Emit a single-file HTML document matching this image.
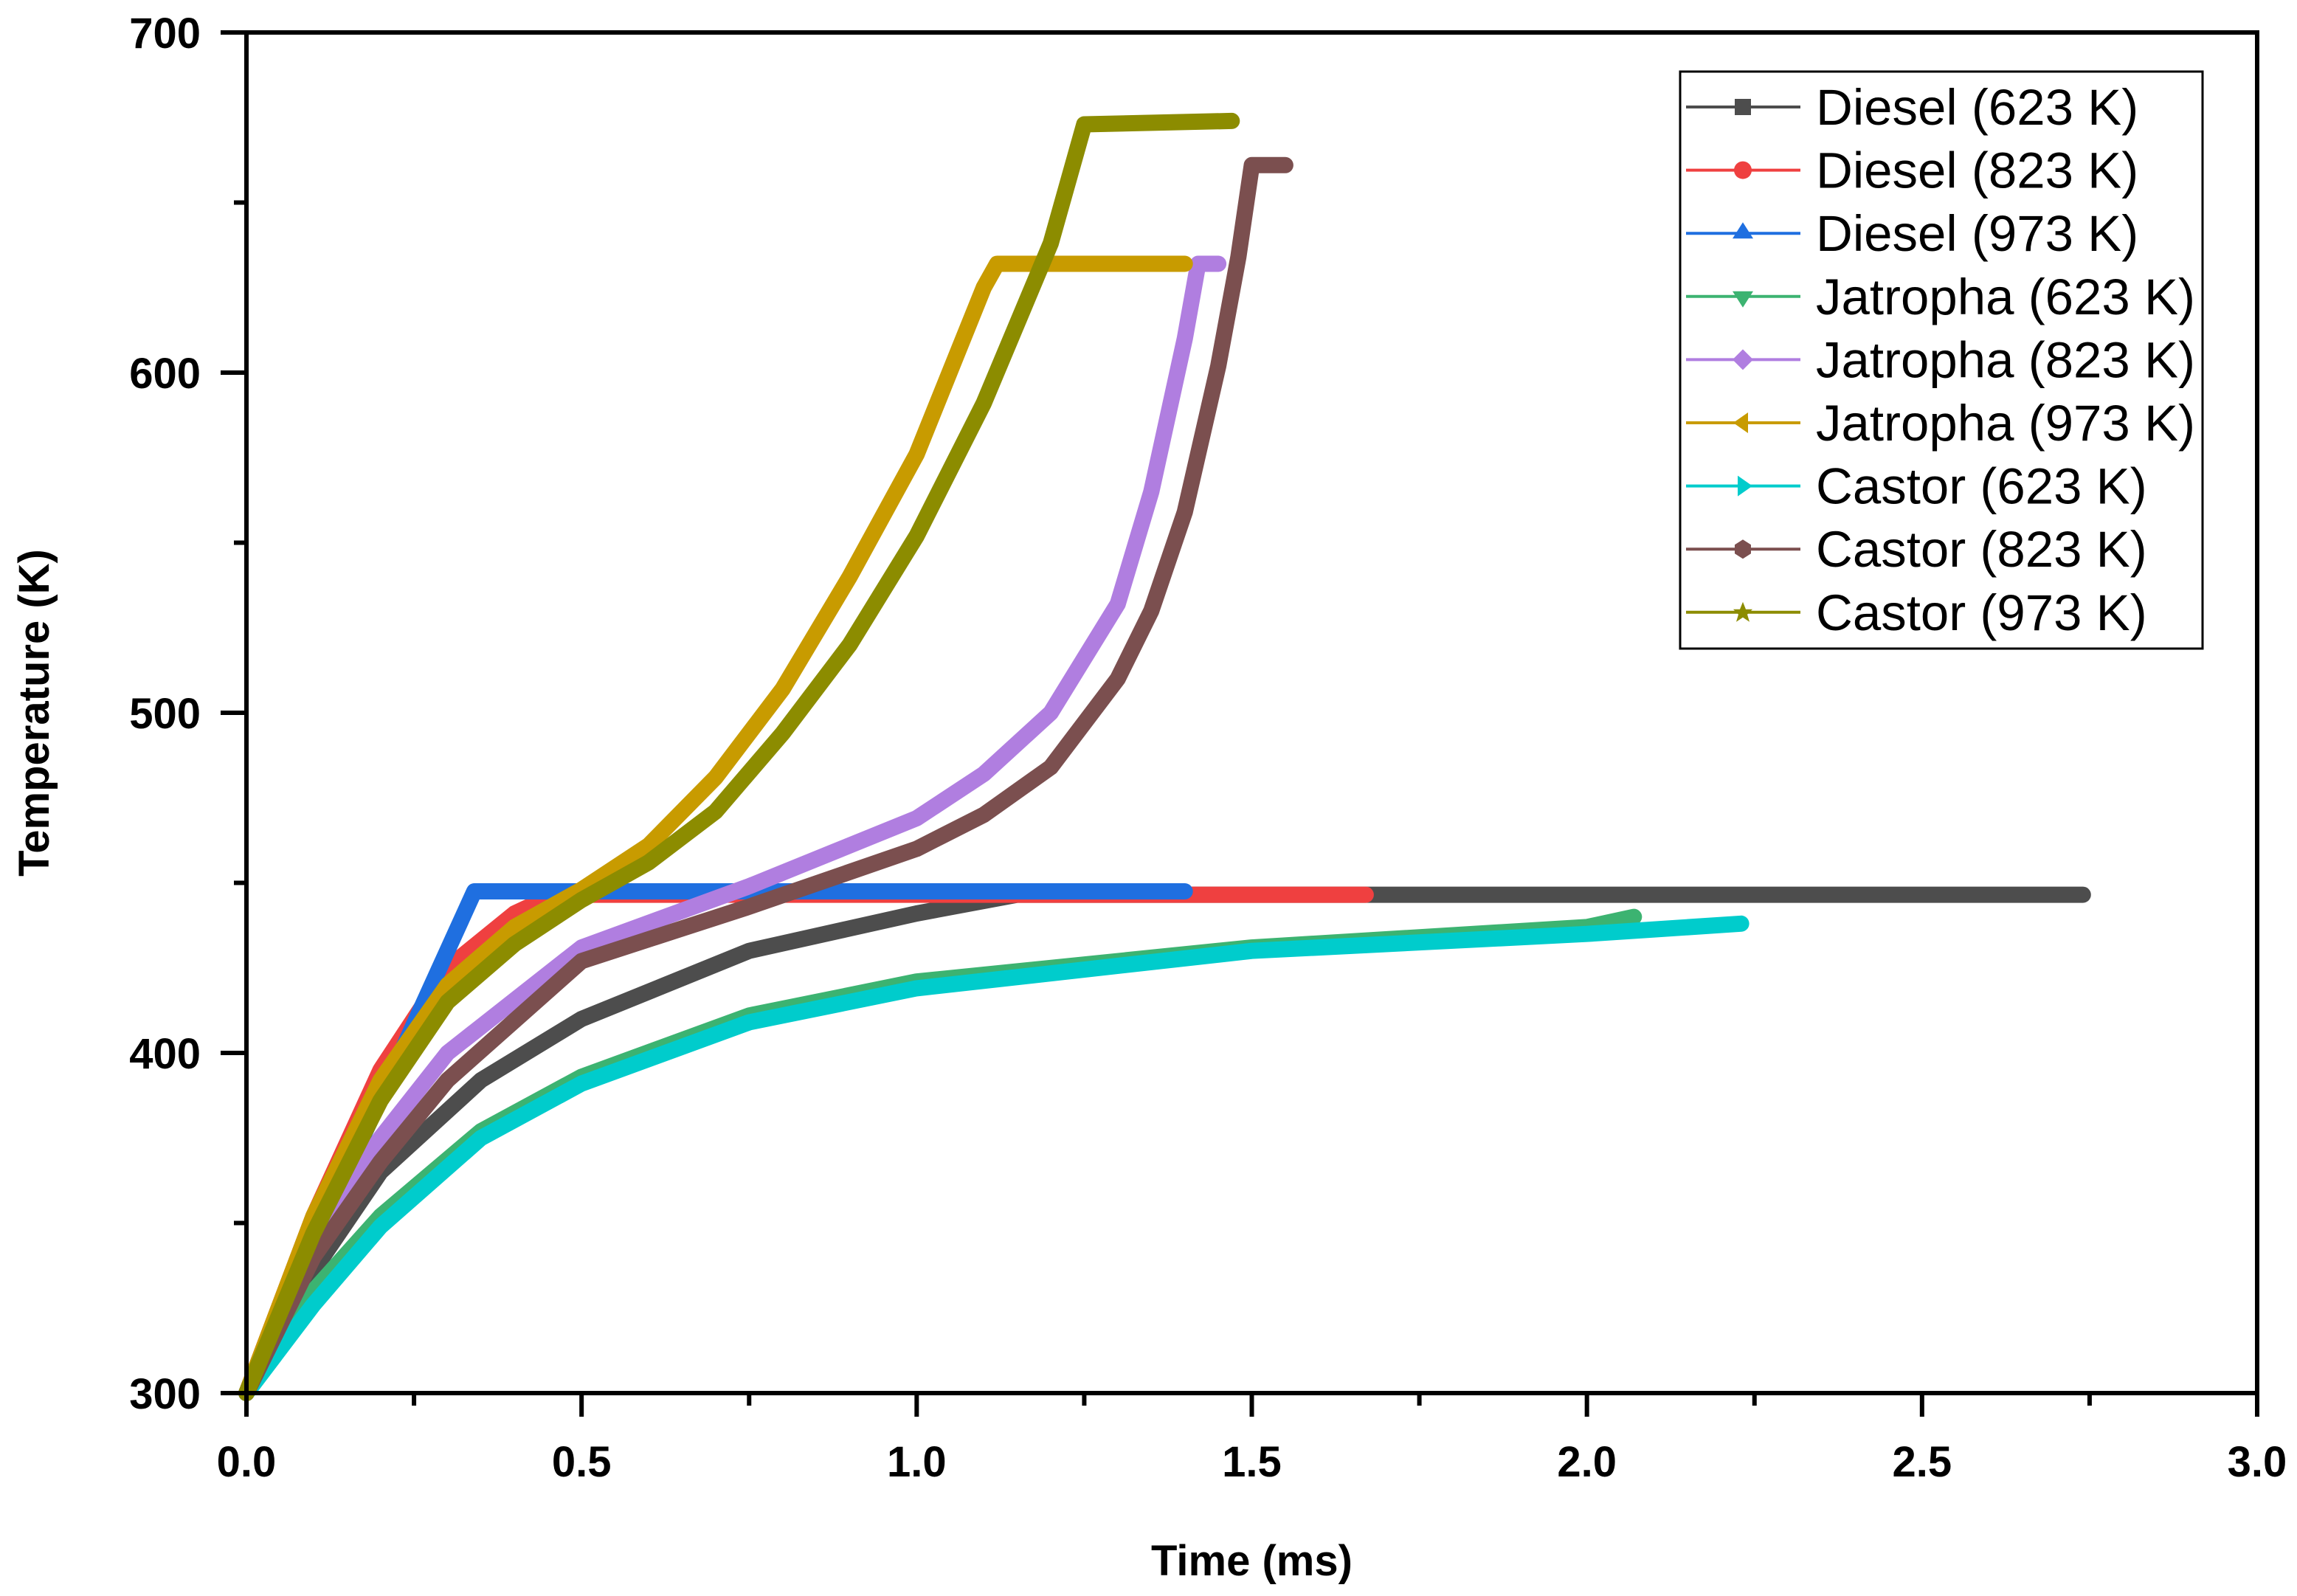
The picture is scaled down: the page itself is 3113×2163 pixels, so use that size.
<!DOCTYPE html>
<html><head><meta charset="utf-8">
<style>
html,body{margin:0;padding:0;background:#fff;}
svg{display:block;font-family:"Liberation Sans",Arial,sans-serif;}
</style></head>
<body>
<svg id="chart" width="3113" height="2163" viewBox="0 0 3113 2163" xmlns="http://www.w3.org/2000/svg">
<g id="series"></g>
<g id="axes"></g>
<g id="legend"></g>
</svg>
<script>
const xTicks = [0, 0.5, 1.0, 1.5, 2.0, 2.5, 3.0];
const xTickLabels = ["0.0","0.5","1.0","1.5","2.0","2.5","3.0"];
const yTicks = [300, 400, 500, 600, 700];
const yTickLabels = ["300","400","500","600","700"];
const seriesNames = ["Diesel (623 K)","Diesel (823 K)","Diesel (973 K)","Jatropha (623 K)","Jatropha (823 K)","Jatropha (973 K)","Castor (623 K)","Castor (823 K)","Castor (973 K)"];
const seriesColors = ["#4d4d4d","#ef4040","#1f6fe0","#3cb371","#b07ee0","#c89b00","#00cccc","#7b4f4f","#8c8c00"];
const diesel623T = [0,0.1,0.2,0.35,0.5,0.75,1.0,1.15,2.74];
const diesel623V = [300,336,365,392,410,430,441,446.5,446.5];
const diesel823T = [0,0.1,0.2,0.3,0.4,0.46,1.67];
const diesel823V = [300,352,395,425,441,446.5,446.5];
const diesel973T = [0,0.34,1.40];
const diesel973V = [300,447.5,447.5];
const jatropha623T = [0,0.1,0.2,0.35,0.5,0.75,1.0,1.5,2.0,2.07];
const jatropha623V = [300,330,352,377,393,411,421,431,437,440];
const jatropha823T = [0,0.1,0.2,0.3,0.5,0.75,1.0,1.1,1.2,1.3,1.35,1.4,1.42,1.45];
const jatropha823V = [300,345,375,400,431,449,469,482,500,532,565,610,632,632];
const jatropha973T = [0,0.1,0.2,0.3,0.4,0.5,0.6,0.7,0.8,0.9,1.0,1.1,1.12,1.40];
const jatropha973V = [300,352,392,420,437,448,461,481,507,540,576,625,632,632];
const castor623T = [0,0.1,0.2,0.35,0.5,0.75,1.0,1.5,2.0,2.23];
const castor623V = [300,326,349,375,391,409,419,430,435,438];
const castor823T = [0,0.1,0.2,0.3,0.5,0.75,1.0,1.1,1.2,1.3,1.35,1.4,1.45,1.48,1.5,1.55];
const castor823V = [300,340,368,392,427,443,460,470,484,510,530,559,602,634,661,661];
const castor973T = [0,0.1,0.2,0.3,0.4,0.5,0.6,0.7,0.8,0.9,1.0,1.1,1.2,1.25,1.47];
const castor973V = [300,347,386,415,432,445,456,471,494,520,552,591,638,673,674];

const allT = [diesel623T,diesel823T,diesel973T,jatropha623T,jatropha823T,jatropha973T,castor623T,castor823T,castor973T];
const allV = [diesel623V,diesel823V,diesel973V,jatropha623V,jatropha823V,jatropha973V,castor623V,castor823V,castor973V];

const L=334,R=3059,T=44,B=1888;
const xMin=0,xMax=3,yMin=300,yMax=700;
function xs(v){return L+(v-xMin)/(xMax-xMin)*(R-L);}
function ys(v){return B-(v-yMin)/(yMax-yMin)*(B-T);}
const NS="http://www.w3.org/2000/svg";
function mk(tag,attrs,parent){const e=document.createElementNS(NS,tag);for(const k in attrs)e.setAttribute(k,attrs[k]);parent.appendChild(e);return e;}

const sg=document.getElementById('series');
allT.forEach((ts,i)=>{
  const pts=ts.map((t,j)=>xs(t).toFixed(1)+','+ys(allV[i][j]).toFixed(1)).join(' ');
  const pl=mk('polyline',{points:pts,fill:'none',stroke:seriesColors[i],'stroke-width':22,'stroke-linejoin':'round','stroke-linecap':'round'},sg);
  
  
});

const ag=document.getElementById('axes');
const frame=mk('rect',{x:L,y:T,width:R-L,height:B-T,fill:'none',stroke:'#000','stroke-width':6},ag);


xTicks.forEach((v,i)=>{
  const t=mk('line',{x1:xs(v),x2:xs(v),y1:B,y2:B+32,stroke:'#000','stroke-width':6},ag);
  
  
  const lb=mk('text',{x:xs(v),y:B+113,'text-anchor':'middle','font-size':58,'font-weight':'bold'},ag);
  lb.textContent=xTickLabels[i];
  
  
  if(i<xTicks.length-1){
    const m=mk('line',{x1:xs(v+0.25),x2:xs(v+0.25),y1:B,y2:B+17,stroke:'#000','stroke-width':6},ag);
    
    
  }
});
yTicks.forEach((v,i)=>{
  const t=mk('line',{x1:L-35,x2:L,y1:ys(v),y2:ys(v),stroke:'#000','stroke-width':6},ag);
  
  
  const lb=mk('text',{x:L-62,y:ys(v)+21,'text-anchor':'end','font-size':58,'font-weight':'bold'},ag);
  lb.textContent=yTickLabels[i];
  
  
  if(i<yTicks.length-1){
    const m=mk('line',{x1:L-17,x2:L,y1:ys(v+50),y2:ys(v+50),stroke:'#000','stroke-width':6},ag);
    
    
  }
});
const xt=mk('text',{x:(L+R)/2,y:2135,'text-anchor':'middle','font-size':58,'font-weight':'bold'},ag);
xt.textContent='Time (ms)';


const yt=mk('text',{x:0,y:0,'text-anchor':'middle','font-size':58,'font-weight':'bold',transform:'translate(66,'+((T+B)/2)+') rotate(-90)'},ag);
yt.textContent='Temperature (K)';



const lg=document.getElementById('legend');
const box=mk('rect',{x:2277,y:97,width:708,height:782,fill:'#fff',stroke:'#000','stroke-width':3},lg);


function marker(i,cx,cy,c,parent){
  let e;
  if(i===0)e=mk('rect',{x:cx-11,y:cy-11,width:22,height:22,fill:c},parent);
  else if(i===1)e=mk('circle',{cx:cx,cy:cy,r:12,fill:c},parent);
  else if(i===2)e=mk('polygon',{points:`${cx},${cy-15} ${cx-14},${cy+7} ${cx+14},${cy+7}`,fill:c},parent);
  else if(i===3)e=mk('polygon',{points:`${cx-14},${cy-7} ${cx+14},${cy-7} ${cx},${cy+15}`,fill:c},parent);
  else if(i===4)e=mk('polygon',{points:`${cx},${cy-14} ${cx+14},${cy} ${cx},${cy+14} ${cx-14},${cy}`,fill:c},parent);
  else if(i===5)e=mk('polygon',{points:`${cx-13},${cy} ${cx+7},${cy-14} ${cx+7},${cy+14}`,fill:c},parent);
  else if(i===6)e=mk('polygon',{points:`${cx+13},${cy} ${cx-7},${cy-14} ${cx-7},${cy+14}`,fill:c},parent);
  else if(i===7)e=mk('polygon',{points:`${cx},${cy-13} ${cx+11},${cy-6} ${cx+11},${cy+6} ${cx},${cy+13} ${cx-11},${cy+6} ${cx-11},${cy-6}`,fill:c},parent);
  else e=mk('polygon',{points:`${cx},${cy-14} ${cx+4},${cy-4} ${cx+13},${cy-4} ${cx+6},${cy+3} ${cx+9},${cy+13} ${cx},${cy+7} ${cx-9},${cy+13} ${cx-6},${cy+3} ${cx-13},${cy-4} ${cx-4},${cy-4}`,fill:c},parent);
  return e;
}
seriesNames.forEach((n,i)=>{
  const cy=145+i*85.6;
  const g=mk('g',{},lg);
  
  
  mk('line',{x1:2285,x2:2440,y1:cy,y2:cy,stroke:seriesColors[i],'stroke-width':4},g);
  marker(i,2362,cy,seriesColors[i],g);
  const t=mk('text',{x:2461,y:cy+24,'font-size':69},g);
  t.textContent=n;
});
</script>
</body></html>
